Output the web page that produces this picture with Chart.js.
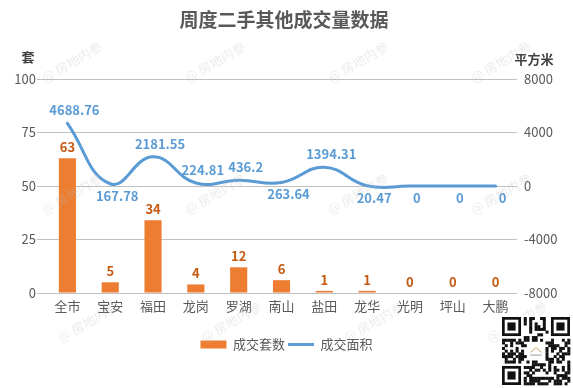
<!DOCTYPE html>
<html><head><meta charset="utf-8">
<script src="https://cdn.jsdelivr.net/npm/chart.js@4.4.0/dist/chart.umd.min.js"></script>
<style>html,body{margin:0;padding:0;background:#fff}#wrap{width:573px;height:388px;position:relative}</style>
</head><body><div id="wrap"><canvas id="c" width="573" height="388"></canvas></div>
<script>
const categories = ['全市','宝安','福田','龙岗','罗湖','南山','盐田','龙华','光明','坪山','大鹏'];
const unitsSold = [63,5,34,4,12,6,1,1,0,0,0];
const areaSold = [4688.76,167.78,2181.55,224.81,436.2,263.64,1394.31,20.47,0,0,0];
const leftTickMin = 0, leftTickMax = 100, leftTickStep = 25;
const rightTickMin = -8000, rightTickMax = 8000, rightTickStep = 4000;
const areaLabelSide = ['up','down','up','up','up','down','up','down','down','down','down'];

const FONT = "'Noto Sans CJK SC','Noto Sans',sans-serif";
const TXT = '#595959';
const ORANGE = '#ED7D31';
const BLUE = '#5B9BD5';

const overlay = {
  id: 'overlay',
  afterDatasetsDraw(chart) {
    const ctx = chart.ctx;
    ctx.save();
    ctx.textAlign = 'center';
    ctx.textBaseline = 'middle';
    ctx.font = "bold 13px " + FONT;
    const mb = chart.getDatasetMeta(0);
    ctx.fillStyle = '#C55A11';
    mb.data.forEach((el, i) => {
      ctx.fillText(String(unitsSold[i]), el.x, el.y - 11);
    });
    const ml = chart.getDatasetMeta(1);
    ctx.fillStyle = BLUE;
    ml.data.forEach((el, i) => {
      const dy = areaLabelSide[i] === 'up' ? -13 : 12;
      ctx.fillText(String(areaSold[i]), el.x + 7, el.y + dy);
    });
    ctx.restore();
  },
  afterDraw(chart) {
    const ctx = chart.ctx;
    ctx.save();
    ctx.textAlign = 'center';
    ctx.textBaseline = 'middle';
    ctx.fillStyle = TXT;
    ctx.font = "bold 19px " + FONT;
    ctx.fillText('周度二手其他成交量数据', 284, 20);
    ctx.font = "bold 13px " + FONT;
    ctx.fillStyle = '#404040';
    ctx.fillText('套', 28, 57);
    ctx.fillText('平方米', 534, 59);
    ctx.font = "13px " + FONT;
    ctx.fillStyle = 'rgba(190,190,190,0.3)';
    const rows = [[62, 0], [194, 0], [322, 16]];
    rows.forEach(([cy, sx]) => {
      for (let k = 0; k < 4; k++) {
        ctx.save();
        ctx.translate(72 + sx + k * 143, cy);
        ctx.rotate(-Math.PI / 6);
        ctx.fillText('@ 房地内参', 0, 0);
        ctx.restore();
      }
    });
    const qx = 502, qy = 317, qs = 68, n = 25, m = qs / n;
    ctx.fillStyle = '#fff';
    ctx.fillRect(qx - 1, qy - 1, qs + 2, qs + 2);
    ctx.fillStyle = '#111';
    const inFinder = (r, c) => (r < 8 && c < 8) || (r < 8 && c >= n - 8) || (r >= n - 8 && c < 8);
    let h = 12345;
    for (let r = 0; r < n; r++) {
      for (let c = 0; c < n; c++) {
        h = (h * 1103515245 + 12345) & 0x7fffffff;
        if (inFinder(r, c)) continue;
        if (r >= 9 && r <= 15 && c >= 9 && c <= 15) continue;
        if ((h >> 16) & 1) ctx.fillRect(qx + c * m, qy + r * m, m + 0.3, m + 0.3);
      }
    }
    const finder = (fx, fy) => {
      ctx.fillStyle = '#111';
      ctx.fillRect(fx, fy, 7 * m, 7 * m);
      ctx.fillStyle = '#fff';
      ctx.fillRect(fx + m, fy + m, 5 * m, 5 * m);
      ctx.fillStyle = '#111';
      ctx.fillRect(fx + 2 * m, fy + 2 * m, 3 * m, 3 * m);
    };
    finder(qx, qy);
    finder(qx + (n - 7) * m, qy);
    finder(qx, qy + (n - 7) * m);
    ctx.fillStyle = '#fff';
    ctx.fillRect(qx + 9.5 * m, qy + 9.5 * m, 6 * m, 6 * m);
    ctx.strokeStyle = '#c8a060';
    ctx.lineWidth = 1;
    ctx.beginPath();
    ctx.moveTo(qx + 10.5 * m, qy + 13 * m);
    ctx.lineTo(qx + 12.5 * m, qy + 11.3 * m);
    ctx.lineTo(qx + 14.5 * m, qy + 13 * m);
    ctx.stroke();
    ctx.strokeStyle = '#999';
    ctx.beginPath();
    ctx.moveTo(qx + 10.5 * m, qy + 14 * m);
    ctx.lineTo(qx + 14.5 * m, qy + 14 * m);
    ctx.stroke();
    ctx.restore();
  }
};

new Chart(document.getElementById('c'), {
  data: {
    labels: categories,
    datasets: [
      {
        type: 'bar', label: '成交套数', data: unitsSold, yAxisID: 'y',
        backgroundColor: ORANGE, borderWidth: 0,
        barPercentage: 0.4, categoryPercentage: 1, order: 2
      },
      {
        type: 'line', label: '成交面积', data: areaSold, yAxisID: 'y1',
        borderColor: BLUE, backgroundColor: BLUE, borderWidth: 3,
        pointRadius: 0, tension: 0.45, fill: false, order: 1,
        borderCapStyle: 'round'
      }
    ]
  },
  options: {
    responsive: false,
    devicePixelRatio: 1,
    animation: false,
    layout: { padding: { top: 79, left: 0, right: 0, bottom: 27 } },
    plugins: {
      title: { display: false },
      tooltip: { enabled: false },
      legend: {
        position: 'bottom',
        labels: {
          usePointStyle: true, pointStyleWidth: 26, boxHeight: 8,
          padding: 3, color: TXT, font: { family: FONT, size: 13 },
          generateLabels(chart) {
            const items = Chart.defaults.plugins.legend.labels.generateLabels(chart);
            items.sort((a, b) => a.datasetIndex - b.datasetIndex);
            items.forEach(it => {
              if (it.datasetIndex === 0) { it.pointStyle = 'rect'; it.lineWidth = 0; it.fillStyle = ORANGE; }
              else { it.pointStyle = 'line'; it.lineWidth = 3; it.strokeStyle = BLUE; }
            });
            return items;
          }
        }
      }
    },
    scales: {
      x: {
        grid: { display: false, drawTicks: false },
        border: { display: false },
        ticks: { color: TXT, font: { family: FONT, size: 13 }, padding: 5, maxRotation: 0, autoSkip: false },
        afterFit(s) { s.height = 42; }
      },
      y: {
        position: 'left', min: leftTickMin, max: leftTickMax,
        grid: { color: '#C0C0C0', lineWidth: 1, tickLength: 9, drawTicks: true },
        border: { display: false },
        ticks: { stepSize: leftTickStep, color: TXT, font: { family: FONT, size: 13 }, padding: 1 },
        afterFit(s) { s.width = 46; }
      },
      y1: {
        position: 'right', min: rightTickMin, max: rightTickMax,
        grid: { display: false, drawTicks: false },
        border: { display: false },
        ticks: { stepSize: rightTickStep, color: TXT, font: { family: FONT, size: 13 }, padding: 7,
          callback: v => String(v) },
        afterFit(s) { s.width = 56; }
      }
    }
  },
  plugins: [overlay]
});
</script>
</body></html>
